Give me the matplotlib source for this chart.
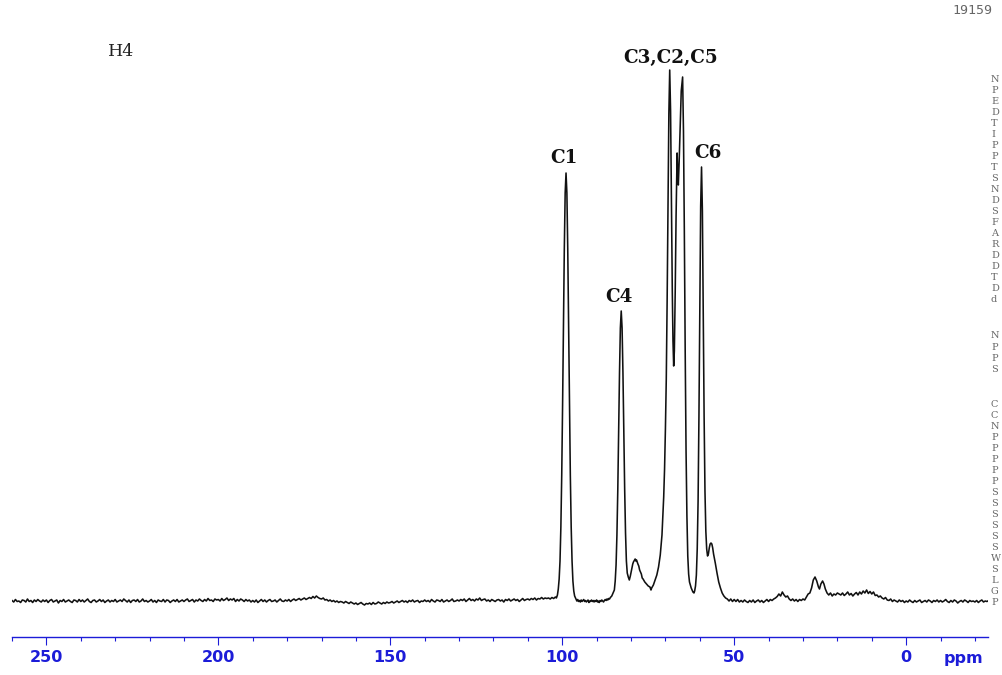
import numpy as np
import matplotlib.pyplot as plt

# 13C CP/MAS spectrum of sample H4
# intensities are arbitrary units above the baseline

# low-field baseline, 260 -> 104 ppm in 0.5 ppm steps
left_ppm = np.arange(260, 103.9, -0.5)
left_int = [
    0.5, -1, 1.5, -0.5, 0, -1.5, 1, 0.5, -1, 2, -0.5, 0.5, -1.5, 1, -0.5, 1.5, 0, -1, 1, -0.5,
    1, -1.5, 0.5, 1.5, -1, 0, 1, -2, 0.5, -0.5, 1.5, -1, 0, 1, -0.5, -1.5, 1, 0.5, -1, 1.5,
    -0.5, 1, -1, 0.5, 2, -0.5, -1.5, 0.5, 1, -1, 0, 1.5, -0.5, 1, -1.5, 0, 1, -1, 0.5, -0.5,
    1.5, -1, 0, 1, -0.5, 2, 0.5, -1, 1, -1.5, 0.5, 1, -0.5, 1.5, -1, 0, 2, -0.5, 0.5, -1,
    0, 1.5, -1, 0.5, -1.5, 1, 0, -0.5, 1.5, -1, 1, 0.5, -1.5, 0, 1, -0.5, 1.5, -1, 0, 1,
    -0.5, 1, 2, -0.5, 0.5, 1.5, -1, 1, 0, 2, 0.5, -0.5, 1.5, 0, 2.5, 0.5, 1, -0.5, 2, 1,
    1.5, 0, 2.5, 0.5, 1.5, 3, 0.5, 2, 1, 2.5, -0.5, 1.5, 0, 2, 1, -0.5, 1.5, 0, 1, -1,
    0.5, -1, 1, -1.5, 0, 1.5, -0.5, 1, -1, 0.5, 1.5, -0.5, 0, 1, -1, 0.5, 2, 0, -0.5, 1,
    0, 1.5, -0.5, 1, 2, 0.5, 1.5, 2.5, 1, 2, 3, 1.5, 2.5, 3.5, 2.5, 4.5, 3, 5, 3.5, 2.5,
    2, 3, 1, 1.5, 0, 1, -0.5, 0.5, -1, 0, -1.5, -0.5, -1, -2, -0.5, -1.5, -2.5, -1, -2, -3,
    -2, -3.5, -2.5, -1.5, -3, -4, -2.5, -3, -2, -3.5, -1.5, -3, -2.5, -1, -2, -3, -1.5, -2.5, -1, -2,
    -1.5, -0.5, -2, -1, 0, -1.5, -0.5, 0.5, -1, 0, -1.5, 0.5, -0.5, 1, -1, 0, 0.5, -1.5, 0, -0.5,
    1, -0.5, 0.5, -1, 1.5, 0, -1, 1, 0.5, -0.5, 1.5, -1, 0, 1, -0.5, 0.5, 2, -0.5, 0, 1,
    0, 1.5, 0.5, 2, -0.5, 1, 2.5, 0.5, 1.5, 0, 2, 1, 3, 0.5, 1.5, 2, 0, 1, -0.5, 1.5,
    0.5, -0.5, 1, 1.5, 0, 1, -1, 1.5, 0.5, 2, 0, 1, 2, 0.5, 1.5, -0.5, 1, 2.5, 0.5, 1.5,
    2, 1, 2.5, 1.5, 3, 1, 2.5, 2, 3.5, 2, 3, 2.5, 3,
]

# carbohydrate region (ppm, intensity)
mid_trace = [
    (103.5, 2), (103.0, 3.5), (102.5, 2.5), (102.0, 4), (101.7, 3),
    (101.4, 6), (101.15, 12),
    (100.9, 22), (100.65, 40), (100.4, 74), (100.15, 126), (99.9, 196),
    (99.65, 276), (99.4, 352), (99.15, 408), (98.9, 428), (98.65, 408),
    (98.4, 352), (98.15, 276), (97.9, 196), (97.65, 126), (97.4, 74),
    (97.15, 40), (96.9, 20), (96.65, 10), (96.4, 5), (96.0, 2),
    (95.75, 0), (95.5, 1.5), (95.25, -0.5), (95.0, 0.5), (94.75, -1),
    (94.5, 1), (94.25, -0.5), (94.0, 0.5), (93.75, 1.5), (93.5, -0.5),
    (93.25, 0.5), (93.0, -1), (92.75, 0), (92.5, 1), (92.25, -1.5),
    (92.0, 0), (91.75, -0.5), (91.5, 1), (91.25, -0.5), (91.0, 0.5),
    (90.75, -1), (90.5, 0.5), (90.25, -0.5), (90.0, 1), (89.75, -1),
    (89.5, 0), (89.25, -1.5), (89.0, 0.5), (88.75, -0.5), (88.5, 1),
    (88.25, 0), (88.0, -1), (87.75, 0.5), (87.5, 1.5), (87.25, 0.5),
    (87.0, 2), (86.75, 1), (86.5, 2.5), (86.25, 2), (86.0, 3.5),
    (85.6, 5), (85.35, 7), (84.85, 11), (84.6, 20), (84.35, 36),
    (84.1, 66), (83.85, 111), (83.6, 169), (83.35, 228), (83.1, 273),
    (82.85, 290), (82.6, 273), (82.35, 228), (82.1, 169), (81.85, 112),
    (81.6, 68), (81.35, 40), (81.1, 28), (80.8, 24), (80.5, 21),
    (80.35, 23), (80.2, 25), (79.8, 32), (79.5, 37), (79.3, 39),
    (78.8, 42), (78.6, 40), (78.4, 41), (78.0, 37), (77.75, 35),
    (77.5, 31), (77.0, 27), (76.75, 23), (76.5, 22), (76.0, 19),
    (75.5, 17), (75.0, 15), (74.5, 14), (74.2, 11), (74.0, 13), (73.5, 16),
    (73.0, 21), (72.5, 26), (72.0, 34), (71.5, 46), (71.0, 66),
    (70.75, 86), (70.5, 104), (70.25, 132), (70.0, 172), (69.75, 222),
    (69.5, 300), (69.25, 392), (69.0, 487), (68.75, 531), (68.5, 490),
    (68.25, 400), (68.0, 310), (67.8, 260), (67.6, 235), (67.4, 250),
    (67.15, 310), (66.9, 385), (66.6, 448), (66.4, 425), (66.25, 416),
    (66.0, 440), (65.7, 475), (65.4, 510), (65.0, 524), (64.75, 470),
    (64.5, 370), (64.25, 250), (64.0, 150), (63.75, 85), (63.5, 45),
    (63.25, 27), (63.0, 19), (62.5, 13), (62.0, 9), (61.7, 8),
    (61.5, 10), (61.25, 15), (61.0, 26), (60.75, 52), (60.5, 100),
    (60.25, 185), (60.0, 295), (59.75, 395), (59.5, 434), (59.25, 390),
    (59.0, 290), (58.75, 185), (58.5, 110), (58.25, 70), (58.0, 52),
    (57.75, 45), (57.5, 47), (57.25, 53), (57.0, 57), (56.75, 58),
    (56.5, 57), (56.25, 53), (56.0, 47), (55.5, 38), (55.0, 28),
    (54.5, 19), (54.0, 13), (53.5, 8), (53.0, 5), (52.5, 3),
    (52.0, 2), (51.5, 0), (51.0, 2), (50.5, -0.5), (50.0, 1.5),
    (49.5, -0.5), (49.0, 1.5), (48.5, -1), (48.0, 0.5), (47.5, -1),
    (47.0, 1), (46.5, -0.5), (46.0, -1.5), (45.5, 0.5), (45.0, -1),
    (44.5, 1), (44.0, -1.5), (43.5, 0), (43.0, 1), (42.5, -1),
    (42.0, 0.5), (41.5, -1.5), (41.0, 0), (40.5, 1.5), (40.0, -0.5),
    (39.5, 1.5), (39.0, 0.5), (38.5, 2), (38.0, 3), (37.5, 4.5),
    (37.0, 7), (36.5, 5), (36.0, 9), (35.5, 6), (35.0, 4),
    (34.5, 5), (34.0, 2), (33.5, 0.5), (33.0, 2), (32.5, 0),
    (32.0, 1.5), (31.5, -0.5), (31.0, 1.5), (30.5, 0.5), (30.0, 2),
    (29.5, 1), (29.0, 4), (28.5, 7), (28.0, 8), (27.5, 13),
    (27.0, 21), (26.5, 24), (26.0, 20), (25.5, 14), (25.2, 12),
    (24.8, 17), (24.3, 20), (23.9, 17), (23.5, 12), (23.0, 8),
    (22.5, 6), (22.0, 8), (21.5, 5), (21.0, 7), (20.5, 6),
    (20.0, 8),
]

# high-field baseline, 19 -> -24 ppm in 0.5 ppm steps
right_ppm = np.arange(19, -24.1, -0.5)
right_int = [
    6, 8, 5.5, 7, 9, 6, 7.5, 5, 7, 8.5, 6, 9, 7, 10, 8, 11, 7.5, 9.5,
    7, 9, 5.5, 6, 4, 5, 3, 2, 3.5, 1, 0.5, 2, -0.5, 1, 0, -1, 1, -0.5, 0.5, -1.5,
    0, -1, 1, -0.5, -1.5, 0.5, -1, 0, 1, -1.5, -0.5, 0.5, -1, 1, 0, -1.5, 0.5, -0.5, 1, -1,
    0.5, -1, 0, 1.5, -0.5, -1.5, 0.5, -1, 1, 0, -2, -0.5, 0.5, -1, 1, 0, -1.5, 0.5, -0.5, 0,
    -1, 0.5, -1.5, 0, 1, -1, 0, -0.5, 0.5,
]

peak_labels = ['C1', 'C4', 'C3,C2,C5', 'C6']
label_ppm = [99.4, 83.4, 68.6, 57.6]
label_int = [443, 304, 543, 448]

# parameter listing at the right margin (only the first column survives the crop)
acq_params = list('NPEDTIPPTSNDSFARDDTDd')
ch1_params = list('NPPS')
ch2_params = list('CCNPPPPPSSSSSSWSLGP')

BLUE = '#1c1cd8'
W, H = 1003, 675


def build_trace():
    mid_ppm = [p for p, _ in mid_trace]
    mid_int = [v for _, v in mid_trace]
    ppm = np.concatenate([left_ppm, mid_ppm, right_ppm])
    inten = np.concatenate([left_int, mid_int, right_int])
    return ppm, inten


def param_column(fig, names, y_top, step=11.05):
    for k, name in enumerate(names):
        y = y_top + k * step
        fig.text(991 / W, 1 - y / H, name, ha='left', va='center',
                 fontsize=7, family='DejaVu Serif', color='#666666')


def main():
    ppm, inten = build_trace()

    fig = plt.figure(figsize=(W / 100, H / 100), dpi=100)
    ax = fig.add_axes([12 / W, 38 / H, 976 / W, 617 / H])
    ax.plot(ppm, inten, color='#111111', linewidth=1.15)
    ax.set_xlim(260, -23.8)
    ax.set_ylim(-36, 581)

    for s in ['left', 'right', 'top']:
        ax.spines[s].set_visible(False)
    ax.spines['bottom'].set_color(BLUE)
    ax.spines['bottom'].set_linewidth(1.0)
    ax.set_yticks([])
    ax.set_xticks(np.arange(0, 251, 50))
    ax.set_xticks(np.arange(-20, 261, 10), minor=True)
    ax.tick_params(axis='x', which='major', direction='out', length=5.8,
                   width=0.8, color=BLUE, labelcolor=BLUE, pad=3.8)
    ax.tick_params(axis='x', which='minor', direction='out', length=2.6,
                   width=0.8, color=BLUE)
    for lab in ax.get_xticklabels():
        lab.set_fontfamily('DejaVu Sans')
        lab.set_fontweight('bold')
        lab.set_fontsize(11.5)
    fig.text(963 / W, 1 - 663 / H, 'ppm', ha='center', va='baseline',
             fontsize=11.5, fontweight='bold', family='DejaVu Sans', color=BLUE)

    for name, x, y in zip(peak_labels, label_ppm, label_int):
        ax.text(x, y, name, ha='center', va='center', fontsize=13.2,
                fontweight='bold', family='DejaVu Serif', color='#111111')

    fig.text(121 / W, 1 - 52 / H, 'H4', ha='center', va='center',
             fontsize=12.5, family='DejaVu Serif', color='#222222')
    fig.text(972 / W, 1 - 10 / H, '19159', ha='center', va='center',
             fontsize=9.5, family='DejaVu Sans Mono', color='#666666')

    param_column(fig, acq_params, 79)
    param_column(fig, ch1_params, 336)
    param_column(fig, ch2_params, 404)

    fig.savefig('out.png', dpi=100)


if __name__ == "__main__":
    main()
